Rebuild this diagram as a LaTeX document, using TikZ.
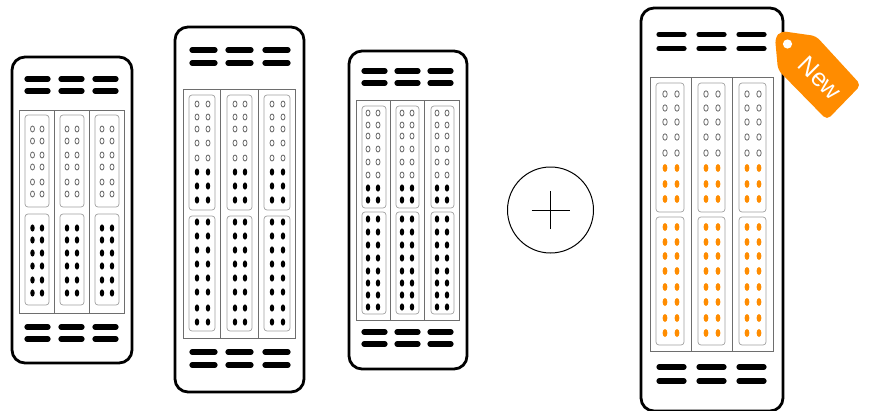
\documentclass[tikz,border=0pt]{standalone}
\usepackage{fontspec}
\setsansfont{Liberation Sans}
\usetikzlibrary{positioning}
\definecolor{tagorange}{HTML}{FF8C00}
\definecolor{bayline}{HTML}{6E6E6E}
\definecolor{cardline}{HTML}{A0A0A0}
\definecolor{portline}{HTML}{6A6A6A}
\tikzset{
  chassis/.style={draw=black, rounded corners=13pt, line width=2.8pt},
  bayframe/.style={draw=bayline, line width=0.8pt},
  cardframe/.style={draw=cardline, rounded corners=3pt, line width=0.7pt},
  vent/.style={draw=black, line width=5.2pt, line cap=round},
  emptyport/.style={draw=portline, line width=0.8pt},
  blackport/.style={fill=black},
  newport/.style={fill=tagorange},
  plusring/.style={circle, draw=black, line width=1pt, minimum size=86pt, inner sep=0pt},
  plusbar/.style={draw=black, line width=0.8pt},
  taglabel/.style={font=\sffamily\fontsize{25}{25}\selectfont, text=white, inner sep=0pt},
}
\begin{document}
\begin{tikzpicture}[x=1pt, y=-1pt]
\useasboundingbox (0,0) rectangle (870,410);

% Server one
\draw[chassis] (12,57) rectangle (132,363);
\draw[bayframe] (19,110) rectangle (124,313);
\draw[bayframe] (54,110) -- (54,313) (89,110) -- (89,313);
\foreach \vy in {79,91,327,339}
  \foreach \vl/\vr in {27/48,61/82,95/116}
    \draw[vent] (\vl,\vy) -- (\vr,\vy);
\foreach \cl/\cr/\pa/\pb in {25/49/32.5/42, 60/84/67/77, 95/119/102/112} {
  \draw[cardframe] (\cl,115) rectangle (\cr,207);
  \draw[cardframe] (\cl,214) rectangle (\cr,305);
  \foreach \py in {129,141,155,167,182,194} {
    \draw[emptyport] (\pa,\py) ellipse (2 and 3);
    \draw[emptyport] (\pb,\py) ellipse (2 and 3);
  }
  \foreach \py in {228,240,253,266,280,293} {
    \fill[blackport] (\pa,\py) ellipse (2.2 and 3.6);
    \fill[blackport] (\pb,\py) ellipse (2.2 and 3.6);
  }
}

% Server two
\draw[chassis] (175,27) rectangle (304,392);
\draw[bayframe] (183,89) rectangle (295,338);
\draw[bayframe] (220,89) -- (220,338) (258,89) -- (258,338);
\foreach \vy in {50,63,352,365}
  \foreach \vl/\vr in {192/215,228/251,265/288}
    \draw[vent] (\vl,\vy) -- (\vr,\vy);
\foreach \cl/\cr/\pa/\pb in {189/215/197/208, 227/252/235/245, 264/290/272/283} {
  \draw[cardframe] (\cl,95) rectangle (\cr,210);
  \draw[cardframe] (\cl,216) rectangle (\cr,331);
  \foreach \py in {104,117,129,143,158} {
    \draw[emptyport] (\pa,\py) ellipse (2 and 3);
    \draw[emptyport] (\pb,\py) ellipse (2 and 3);
  }
  \foreach \py in {172,186,200,222,236,250,264,278,292,308,322} {
    \fill[blackport] (\pa,\py) ellipse (2.2 and 3.6);
    \fill[blackport] (\pb,\py) ellipse (2.2 and 3.6);
  }
}

% Server three
\draw[chassis] (349,51) rectangle (467,369);
\draw[bayframe] (356,100) rectangle (459,320);
\draw[bayframe] (390,100) -- (390,320) (424,100) -- (424,320);
\foreach \vy in {71,83,332,344}
  \foreach \vl/\vr in {364/385,397/418,430/451}
    \draw[vent] (\vl,\vy) -- (\vr,\vy);
\foreach \cl/\cr/\pa/\pb in {362/386/368/378, 396/419/402/412, 431/454/437/447} {
  \draw[cardframe] (\cl,106) rectangle (\cr,208);
  \draw[cardframe] (\cl,212) rectangle (\cr,314);
  \foreach \py in {113,125,136,149,162,175} {
    \draw[emptyport] (\pa,\py) ellipse (2 and 3);
    \draw[emptyport] (\pb,\py) ellipse (2 and 3);
  }
  \foreach \py in {188,200,219,232,245,258,271,283,295,307} {
    \fill[blackport] (\pa,\py) ellipse (2.2 and 3.6);
    \fill[blackport] (\pb,\py) ellipse (2.2 and 3.6);
  }
}

% Plus sign
\node[plusring] (plus) at (550.5,210) {};
\draw[plusbar] ([xshift=-19pt]plus.center) -- ([xshift=19pt]plus.center);
\draw[plusbar] ([yshift=-19pt]plus.center) -- ([yshift=19pt]plus.center);

% New server
\draw[chassis] (641,8) rectangle (783,411);
\draw[bayframe] (650,77) rectangle (773,351);
\draw[bayframe] (691,77) -- (691,351) (732,77) -- (732,351);
\foreach \vy in {34.5,48.5,367,381}
  \foreach \vl/\vr in {659/684,699/724,739/764}
    \draw[vent] (\vl,\vy) -- (\vr,\vy);
\foreach \cl/\cr/\pa/\pb in {656/684/665/677, 698/725/706/718, 739/766/747/759} {
  \draw[cardframe] (\cl,83) rectangle (\cr,212);
  \draw[cardframe] (\cl,217) rectangle (\cr,345);
  \foreach \py in {94,108,122,137,153} {
    \draw[emptyport] (\pa,\py) ellipse (2.2 and 3.2);
    \draw[emptyport] (\pb,\py) ellipse (2.2 and 3.2);
  }
  \foreach \py in {168,184,199,227,242,256,271,287,302,318,333} {
    \fill[newport] (\pa,\py) ellipse (2.4 and 4);
    \fill[newport] (\pb,\py) ellipse (2.4 and 4);
  }
}

% Tag
\fill[tagorange, rounded corners=5pt] (775,38) -- (781,31) -- (816,36) -- (861,85) -- (827,120) -- (778,70) -- cycle;
\fill[white] (787.5,44) circle (4.6);
\node[taglabel, rotate=-45] (newtag) at (820,78) {New};

\end{tikzpicture}
\end{document}
